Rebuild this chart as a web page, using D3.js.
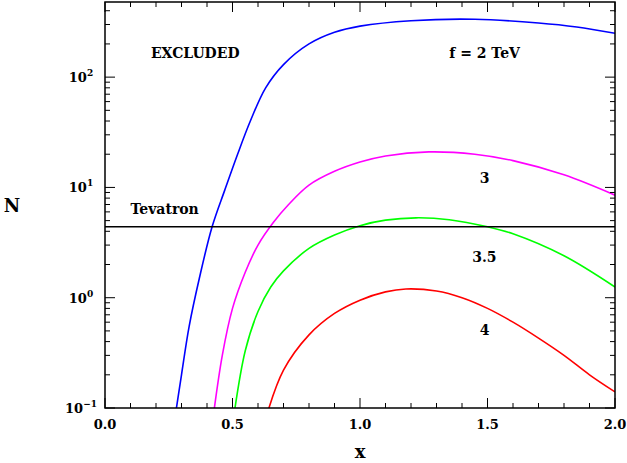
<!DOCTYPE html>
<html><head><meta charset="utf-8">
<script src="https://cdn.jsdelivr.net/npm/d3@7"></script>
<style>body{margin:0;background:#fff}text{font-family:"DejaVu Serif",serif;font-weight:bold}</style>
</head><body><svg id="c" width="627" height="463"></svg>
<script>
// Curves (x, N)
const blue = [[0.27,0.07],[0.30,0.2],[0.33,0.55],[0.37,1.5],[0.42,4.4],[0.47,9.5],[0.52,20],[0.57,40],[0.63,80],[0.7,130],[0.8,200],[0.9,255],[1.0,290],[1.2,325],[1.45,335],[1.7,310],[1.85,285],[2.0,250]];
const magenta = [[0.42,0.07],[0.46,0.3],[0.5,0.8],[0.55,1.7],[0.6,3.0],[0.66,4.8],[0.72,7],[0.8,10.5],[0.9,14],[1.0,17],[1.1,19.3],[1.27,21],[1.45,20],[1.6,17.5],[1.8,13],[2.0,8.5]];
const green = [[0.5,0.07],[0.55,0.33],[0.6,0.75],[0.65,1.25],[0.7,1.75],[0.8,2.8],[0.9,3.7],[1.0,4.5],[1.1,5.05],[1.22,5.3],[1.35,5.1],[1.5,4.4],[1.6,3.8],[1.8,2.4],[2.0,1.25]];
const red = [[0.63,0.08],[0.7,0.22],[0.8,0.46],[0.9,0.72],[1.0,0.95],[1.1,1.13],[1.18,1.2],[1.3,1.15],[1.4,1.0],[1.5,0.8],[1.6,0.6],[1.7,0.43],[1.8,0.3],[1.9,0.2],[2.0,0.14]];
const tevatron = 4.4;
const xTicks = [0, 0.5, 1.0, 1.5, 2.0];
const yDecades = [-1, 0, 1, 2];
const labels = [["EXCLUDED",0.18,150],["f = 2 TeV",1.35,150],["3",1.47,11],["3.5",1.44,2.1],["4",1.47,0.46]];

const svg = d3.select('#c');
const L = 105, R = 615, T = 2, B = 408;
const x = d3.scaleLinear().domain([0, 2]).range([L, R]);
const y = d3.scaleLog().domain([0.1, 480]).range([B, T]);

svg.append('clipPath').attr('id', 'clip').append('rect')
    .attr('x', L).attr('y', T).attr('width', R - L).attr('height', B - T);

const line = d3.line().x(d => x(d[0])).y(d => y(d[1])).curve(d3.curveCatmullRom);
const g = svg.append('g').attr('clip-path', 'url(#clip)');
[[blue,'#0000ff'],[magenta,'#ff00ff'],[green,'#00ff00'],[red,'#ff0000']].forEach(([d, c]) => {
    g.append('path').datum(d).attr('d', line).attr('fill', 'none').attr('stroke', c).attr('stroke-width', 1.6);
});
g.append('line').attr('x1', L).attr('x2', R).attr('y1', y(tevatron)).attr('y2', y(tevatron))
    .attr('stroke', '#000').attr('stroke-width', 1.6);

// frame
svg.append('rect').attr('x', L).attr('y', T).attr('width', R - L).attr('height', B - T)
    .attr('fill', 'none').attr('stroke', '#000').attr('stroke-width', 1.5);

const tk = svg.append('g').attr('stroke', '#000').attr('stroke-width', 1);
// x ticks
for (let i = 0; i <= 20; i++) {
    const v = i * 0.1, len = i % 5 === 0 ? 10 : 5;
    tk.append('line').attr('x1', x(v)).attr('x2', x(v)).attr('y1', B).attr('y2', B - len);
    tk.append('line').attr('x1', x(v)).attr('x2', x(v)).attr('y1', T).attr('y2', T + len);
}
// y ticks
for (let e = -1; e <= 2; e++) {
    for (let m = 1; m <= 9; m++) {
        const v = m * Math.pow(10, e);
        if (v > 480) continue;
        const len = m === 1 ? 10 : 5;
        tk.append('line').attr('x1', L).attr('x2', L + len).attr('y1', y(v)).attr('y2', y(v));
        tk.append('line').attr('x1', R).attr('x2', R - len).attr('y1', y(v)).attr('y2', y(v));
    }
}
svg.selectAll('.xt').data(xTicks).join('text').attr('x', d => x(d)).attr('y', B + 21)
    .attr('text-anchor', 'middle').attr('font-size', 13).text(d => d.toFixed(1));
const yt = svg.selectAll('.yt').data(yDecades).join('text').attr('x', L - 24).attr('y', d => y(Math.pow(10, d)) + 5)
    .attr('text-anchor', 'middle').attr('font-size', 13);
yt.append('tspan').text('10');
yt.append('tspan').attr('dy', -6).attr('font-size', 9).text(d => d === -1 ? '−1' : d);

svg.append('text').attr('x', x(1)).attr('y', 458).attr('text-anchor', 'middle').attr('font-size', 18).text('x');
svg.append('text').attr('x', 12).attr('y', 212).attr('text-anchor', 'middle').attr('font-size', 18).text('N');
svg.append('text').attr('x', x(0.1)).attr('y', y(tevatron) - 13).attr('font-size', 14).text('Tevatron');
labels.forEach(([t, lx, ly]) => {
    svg.append('text').attr('x', x(lx)).attr('y', y(ly)).attr('font-size', 14).text(t);
});
</script></body></html>
